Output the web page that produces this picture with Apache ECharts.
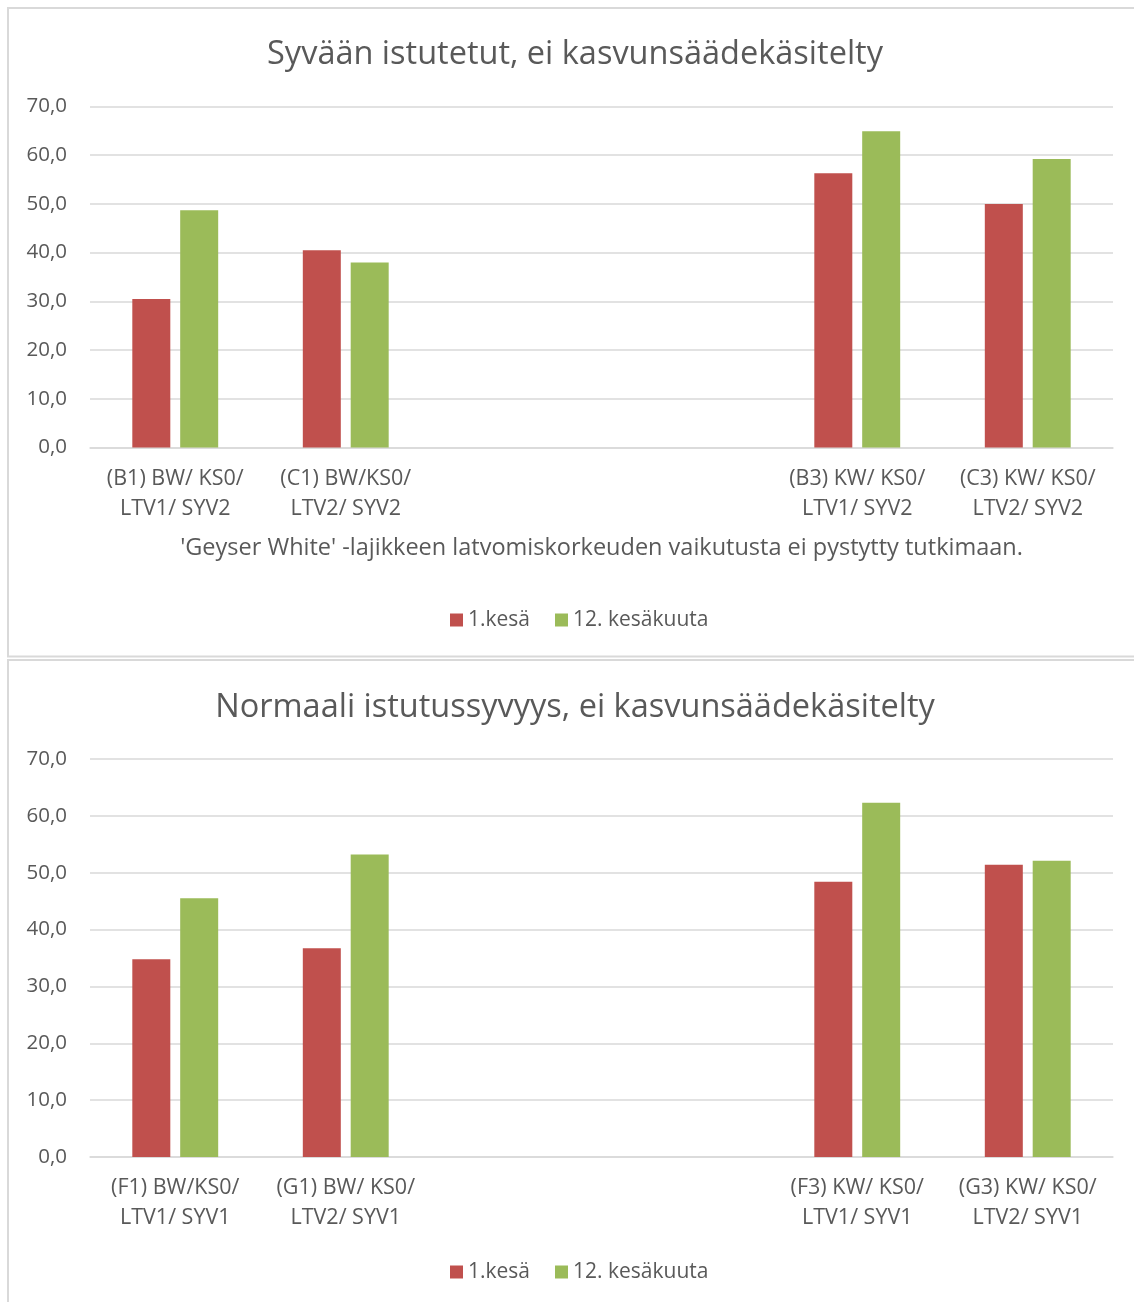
<!DOCTYPE html>
<html>
<head>
<meta charset="utf-8">
<script src="https://cdn.jsdelivr.net/npm/echarts@6/dist/echarts.min.js"></script>
<style>
  html, body { margin: 0; padding: 0; background: #ffffff; }
  #chart { width: 1134px; height: 1302px; }
</style>
</head>
<body>
<div id="chart"></div>
<script>
// Series names (legend)
const seriesNames = ['1.kesä', '12. kesäkuuta'];

// Upper chart: deep planting
const titleTop = 'Syvään istutetut, ei kasvunsäädekäsitelty';
const categoriesTop = [
  '(B1) BW/ KS0/\nLTV1/ SYV2',
  '(C1) BW/KS0/\nLTV2/ SYV2',
  '',
  '',
  '(B3) KW/ KS0/\nLTV1/ SYV2',
  '(C3) KW/ KS0/\nLTV2/ SYV2'
];
const summer1Top = [30.5, 40.5, null, null, 56.3, 50.0];
const june12Top = [48.7, 38.0, null, null, 64.9, 59.2];
const noteTop = "'Geyser White' -lajikkeen latvomiskorkeuden vaikutusta ei pystytty tutkimaan.";

// Lower chart: normal planting depth
const titleBottom = 'Normaali istutussyvyys, ei kasvunsäädekäsitelty';
const categoriesBottom = [
  '(F1) BW/KS0/\nLTV1/ SYV1',
  '(G1) BW/ KS0/\nLTV2/ SYV1',
  '',
  '',
  '(F3) KW/ KS0/\nLTV1/ SYV1',
  '(G3) KW/ KS0/\nLTV2/ SYV1'
];
const summer1Bottom = [34.8, 36.7, null, null, 48.4, 51.4];
const june12Bottom = [45.5, 53.2, null, null, 62.3, 52.1];

// Value axis ticks
const yMin = 0, yMax = 70, yStep = 10;

const FONT = '"Open Sans", sans-serif';
const TEXT = '#595959';
const GRID_LINE = '#d9d9d9';
const RED = '#c0504d';
const GREEN = '#9bbb59';

const chart = echarts.init(document.getElementById('chart'), null, { renderer: 'canvas' });

function valueAxis(gridIndex) {
  return {
    type: 'value', gridIndex, min: yMin, max: yMax, interval: yStep,
    axisLine: { show: false }, axisTick: { show: false },
    splitLine: { lineStyle: { color: GRID_LINE, width: 1.5 } },
    axisLabel: {
      color: TEXT, fontFamily: FONT, fontSize: 20.5, margin: 23,
      formatter: v => v.toFixed(1).replace('.', ',')
    }
  };
}

function categoryAxis(gridIndex, data, name) {
  const ax = {
    type: 'category', gridIndex, data,
    axisLine: { lineStyle: { color: GRID_LINE, width: 1.5 } },
    axisTick: { show: false },
    axisLabel: {
      color: TEXT, fontFamily: FONT, fontSize: 21.5, lineHeight: 30,
      margin: 16, interval: 0
    }
  };
  if (name) {
    ax.name = name;
    ax.nameLocation = 'middle';
    ax.nameGap = 89;
    ax.nameTextStyle = { color: TEXT, fontFamily: FONT, fontSize: 23.5 };
  }
  return ax;
}

function bars(name, data, color, idx) {
  return {
    name, type: 'bar', data, xAxisIndex: idx, yAxisIndex: idx,
    barWidth: 38, barGap: '26%',
    itemStyle: { color },
    emphasis: { disabled: true }
  };
}

function legend(top) {
  return {
    data: seriesNames, left: 445, top, itemWidth: 13, itemHeight: 13, itemGap: 25,
    icon: 'rect', selectedMode: false,
    textStyle: { color: TEXT, fontFamily: FONT, fontSize: 21 }
  };
}

const titleStyle = { color: TEXT, fontFamily: FONT, fontSize: 32.5, fontWeight: 'normal' };

const option = {
  animation: false,
  backgroundColor: '#ffffff',
  graphic: [
    { type: 'rect', silent: true, shape: { x: 8, y: 8, width: 1140, height: 648.5 },
      style: { fill: 'none', stroke: GRID_LINE, lineWidth: 2 } },
    { type: 'rect', silent: true, shape: { x: 8, y: 660, width: 1140, height: 660 },
      style: { fill: 'none', stroke: GRID_LINE, lineWidth: 2 } }
  ],
  title: [
    { text: titleTop, left: 570, top: 33, textAlign: 'center', textStyle: titleStyle },
    { text: titleBottom, left: 570, top: 686, textAlign: 'center', textStyle: titleStyle }
  ],
  legend: [legend(604.5), legend(1256.5)],
  grid: [
    { left: 90, right: 21, top: 106.5, height: 341 },
    { left: 90, right: 21, top: 759, height: 398 }
  ],
  xAxis: [
    categoryAxis(0, categoriesTop, noteTop),
    categoryAxis(1, categoriesBottom, null)
  ],
  yAxis: [valueAxis(0), valueAxis(1)],
  series: [
    bars(seriesNames[0], summer1Top, RED, 0),
    bars(seriesNames[1], june12Top, GREEN, 0),
    bars(seriesNames[0], summer1Bottom, RED, 1),
    bars(seriesNames[1], june12Bottom, GREEN, 1)
  ]
};

chart.setOption(option);
</script>
</body>
</html>
